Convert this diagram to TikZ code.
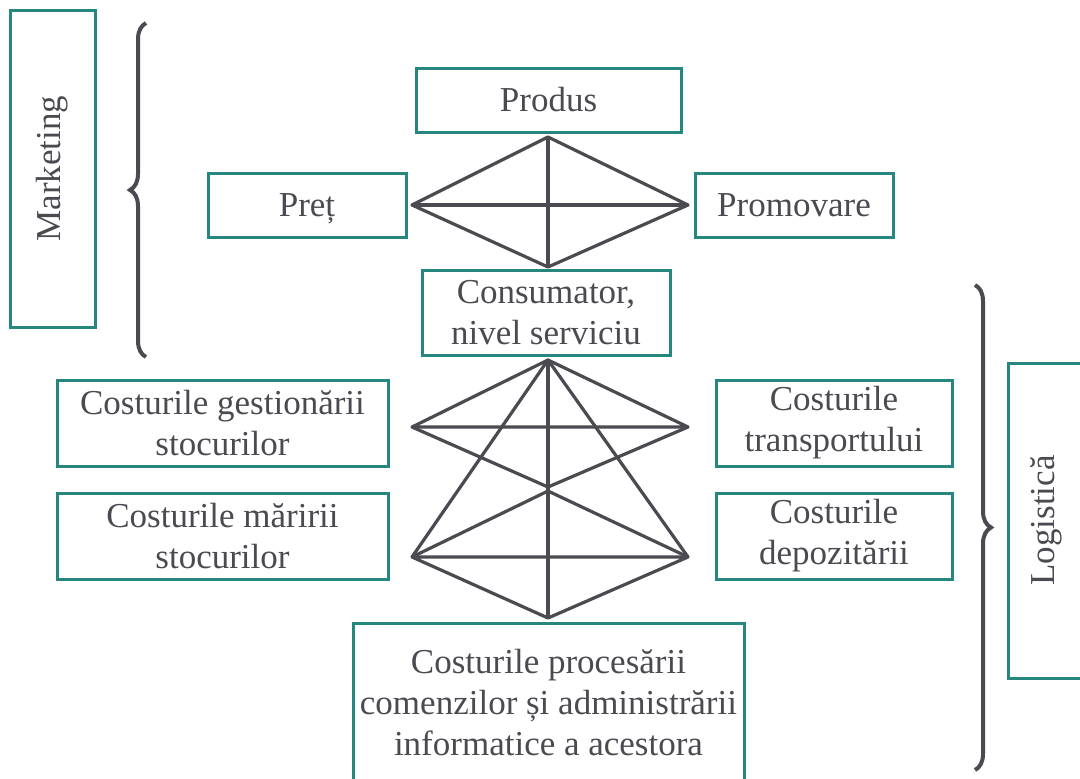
\documentclass[tikz,border=0pt]{standalone}
\usepackage{fontspec}
\setmainfont{Liberation Serif}
\usetikzlibrary{decorations.pathreplacing}
\definecolor{tealbox}{HTML}{25877D}
\definecolor{inkgray}{HTML}{4A4A50}

\begin{document}
\begin{tikzpicture}[x=0.5pt, y=-0.5pt,
    box/.style={draw=tealbox, line width=1.5pt, text=inkgray, align=center,
      inner sep=0pt, font=\fontsize{17.5}{20.5}\selectfont},
    link/.style={draw=inkgray, line width=1.6pt, line join=round},
    bracket/.style={draw=inkgray, line width=2pt, decorate,
      decoration={brace, amplitude=8pt}}]
        \useasboundingbox (0,0) rectangle (1080,778);
        \clip (0,0) rectangle (1080,778);

        % marketing
        \node[box, rotate=90, minimum width=158.5pt, minimum height=42.5pt] (mkt) at (52.5,168.5) {Marketing};
        \node[box, minimum width=132.5pt, minimum height=32pt] (produs) at (548.5,100) {Produs};
        \node[box, text depth=0pt, minimum width=99pt, minimum height=32pt] (pret) at (307,205) {Preț};
        \node[box, minimum width=99pt, minimum height=32pt] (promo) at (794,205) {Promovare};
        \node[box, minimum width=124pt, minimum height=42.5pt] (cons) at (546,312.5) {Consumator,\\nivel serviciu};

        % logistica
        \node[box, rotate=90, minimum width=157.5pt, minimum height=38pt] (log) at (1046,520.5) {Logistică};
        \node[box, minimum width=165.5pt, minimum height=43pt] (gest) at (222.5,423) {Costurile gestionării\\stocurilor};
        \node[box, minimum width=118pt, minimum height=43pt] (transp) at (834,423) {Costurile\\transportului};
        \node[box, minimum width=165.5pt, minimum height=43pt] (marire) at (222.5,536) {Costurile măririi\\stocurilor};
        \node[box, minimum width=118pt, minimum height=43pt] (depoz) at (834,536) {Costurile\\depozitării};
        \node[box, minimum width=195.5pt, minimum height=80pt] (proces) at (548.5,703) {Costurile procesării\\comenzilor și administrării\\informatice a acestora};

        % top diamond
        \coordinate (dT) at (548,137);
        \coordinate (dL) at (412,205);
        \coordinate (dR) at (688,205);
        \coordinate (dB) at (548,267);
        \draw[link] (dL) -- (dT) -- (dR) -- (dB) -- cycle;
        \draw[link] (dL) -- (dR);
        \draw[link] (dT) -- (dB);

        % lower frame
        \coordinate (apex) at (548,360);
        \coordinate (upL) at (412,427);
        \coordinate (upR) at (688,427);
        \coordinate (midA) at (548,487);
        \coordinate (midB) at (548,491);
        \coordinate (lowL) at (412,557);
        \coordinate (lowR) at (688,557);
        \coordinate (base) at (548,618);
        \draw[link] (upL) -- (apex) -- (upR) -- cycle;
        \draw[link] (lowL) -- (apex) -- (lowR);
        \draw[link] (apex) -- (base);
        \draw[link] (upL) -- (midA) -- (upR);
        \draw[link] (lowL) -- (midB) -- (lowR);
        \draw[link] (lowL) -- (lowR) -- (base) -- cycle;

        % braces
        \draw[bracket] (146,357) -- (146,23);
        \draw[bracket] (975,285) -- (975,770);
\end{tikzpicture}
\end{document}
